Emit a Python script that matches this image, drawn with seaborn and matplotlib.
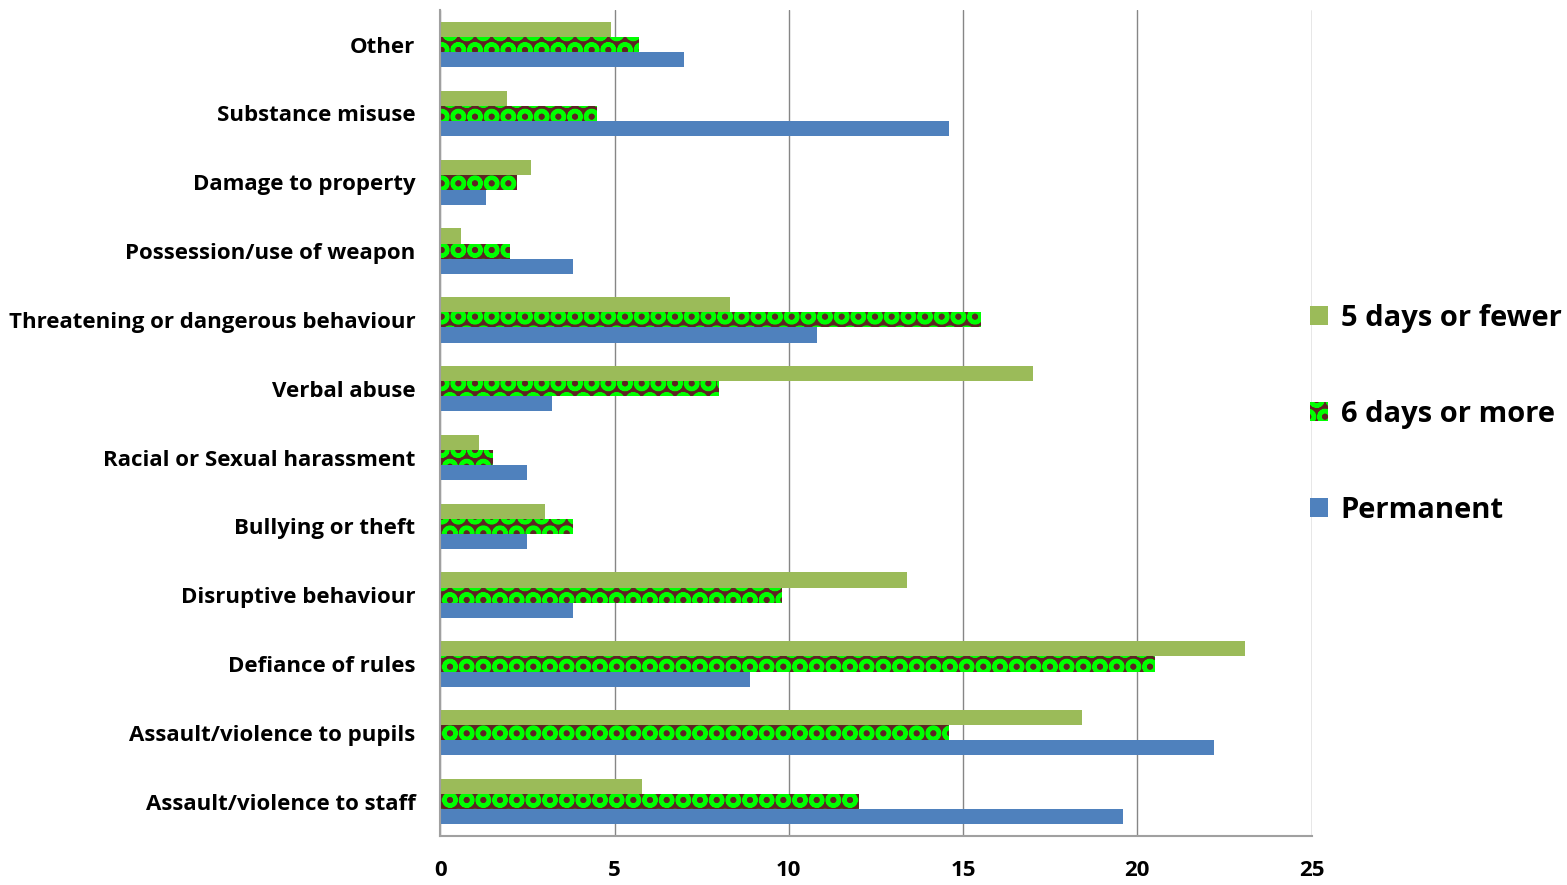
import matplotlib
matplotlib.use("Agg")
import matplotlib.pyplot as plt
from matplotlib.patches import Patch
import seaborn as sns
import pandas as pd

categories = ["Other", "Substance misuse", "Damage to property", "Possession/use of weapon",
              "Threatening or dangerous behaviour", "Verbal abuse", "Racial or Sexual harassment",
              "Bullying or theft", "Disruptive behaviour", "Defiance of rules",
              "Assault/violence to pupils", "Assault/violence to staff"]
five_days_or_fewer = [4.9, 1.9, 2.6, 0.6, 8.3, 17.0, 1.1, 3.0, 13.4, 23.1, 18.4, 5.8]
six_days_or_more = [5.7, 4.5, 2.2, 2.0, 15.5, 8.0, 1.5, 3.8, 9.8, 20.5, 14.6, 12.0]
permanent = [7.0, 14.6, 1.3, 3.8, 10.8, 3.2, 2.5, 2.5, 3.8, 8.9, 22.2, 19.6]
series_names = ["5 days or fewer", "6 days or more", "Permanent"]
x_ticks = [0, 5, 10, 15, 20, 25]

rows = []
for name, vals in zip(series_names, [five_days_or_fewer, six_days_or_more, permanent]):
    for c, v in zip(categories, vals):
        rows.append({"category": c, "series": name, "value": v})
df = pd.DataFrame(rows)

sns.set_theme(style="white")
plt.rcParams["font.family"] = ["Open Sans", "DejaVu Sans"]
plt.rcParams["hatch.linewidth"] = 3.0
plt.rcParams["text.color"] = "black"
plt.rcParams["xtick.color"] = "black"
plt.rcParams["ytick.color"] = "black"

green = "#9BBB59"
brown = "#5E2424"
bright = "#00FF00"
blue = "#4F81BD"

fig = plt.figure(figsize=(15.67, 8.85), dpi=100)
ax = fig.add_axes([0.281, 0.0554, 0.556, 0.933])

sns.barplot(data=df, y="category", x="value", hue="series", order=categories,
            hue_order=series_names, palette=[green, brown, blue], width=0.66,
            orient="h", ax=ax, legend=False, saturation=1, linewidth=0)

for p in ax.containers[1]:
    p.set_facecolor(brown)
    p.set_edgecolor(bright)
    p.set_hatch("O")
    p.set_linewidth(0)

ax.set_xlim(0, 25)
ax.set_ylim(len(categories) - 0.5, -0.5)
ax.set_xticks(x_ticks)
ax.set_xticklabels([str(t) for t in x_ticks], fontsize=16, fontweight="bold", color="black")
ax.set_yticks(range(len(categories)))
ax.set_yticklabels(categories, fontsize=16, fontweight="bold", color="black")
ax.tick_params(axis="y", length=0, pad=18)
ax.tick_params(axis="x", length=0, pad=17)
ax.set_yticks([i - 0.5 for i in range(len(categories) + 1)], minor=True)
ax.tick_params(axis="y", which="minor", length=8, color="#A0A0A0", width=1.5, direction="out")
ax.set_xlabel("")
ax.set_ylabel("")
ax.grid(axis="x", color="#868686", linewidth=1)
ax.set_axisbelow(True)
for s in ["top", "right"]:
    ax.spines[s].set_visible(False)
for s in ["left", "bottom"]:
    ax.spines[s].set_color("#A0A0A0")
    ax.spines[s].set_linewidth(1.5)

handles = [Patch(facecolor=green, linewidth=0),
           Patch(facecolor=brown, edgecolor=bright, hatch="O", linewidth=0),
           Patch(facecolor=blue, linewidth=0)]
leg = fig.legend(handles, series_names, loc="center left", bbox_to_anchor=(0.836, 0.532),
                 frameon=False, prop={"size": 21, "weight": "bold"},
                 handlelength=0.6, handleheight=0.6, handletextpad=0.45, labelspacing=2.3,
                 borderaxespad=0, borderpad=0)
for t in leg.get_texts():
    t.set_color("black")

fig.savefig("out.png", dpi=100)
